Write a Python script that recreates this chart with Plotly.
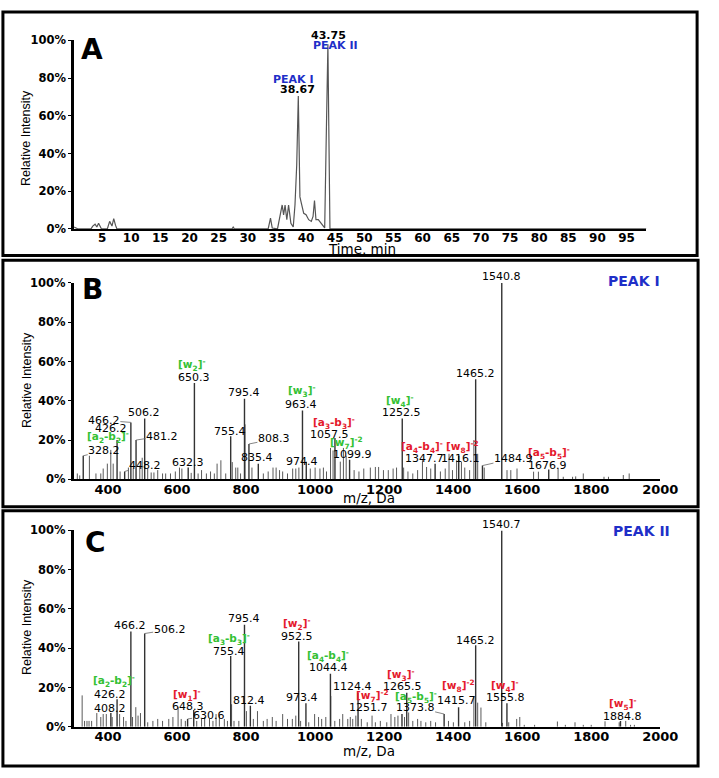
import plotly.graph_objects as go

W, H = 719, 778

# ---------------- Panel A: chromatogram ----------------
time_min = [0.2, 0.9, 3.1, 3.4, 3.8, 4.1, 4.4, 4.7, 4.9, 5.9, 6.3, 6.7, 7.0, 7.3, 7.55,
            27.3, 27.5, 27.7, 33.5, 33.9, 34.2, 35.1, 35.9, 36.15, 36.4, 36.7, 37.0,
            37.4, 37.8, 38.1, 38.4, 38.67, 38.8, 38.95, 39.2, 39.6, 40.0, 40.45, 40.9,
            41.2, 41.45, 41.7, 42.1, 42.55, 42.95, 43.2, 43.45, 43.75, 43.9, 44.1, 98.4]
rel_int_A = [1, 0, 0, 1.5, 2.5, 1, 3, 1.5, 0, 0, 4, 1.5, 5.5, 2, 0,
             0, 1, 0, 0, 5.7, 0.5, 0, 12.7, 7.5, 12.7, 4.9, 12.7,
             3, 1, 12.7, 34, 70.5, 34, 17, 13.5, 8.3, 7.5, 4.9, 4,
             6.6, 15, 4.9, 4.9, 3, 1.4, 0.5, 46, 98, 55, 0, 0]

# ---------------- Panel B: PEAK I spectrum ----------------
major_B_mz = [328.2, 426.2, 466.2, 481.2, 506.2, 448.2, 632.3, 650.3, 755.4, 795.4,
              808.3, 835.4, 963.4, 974.4, 1057.5, 1099.9, 1252.5, 1347.7, 1416.1,
              1465.2, 1484.9, 1540.8, 1676.9]
major_B_int = [12, 20, 29, 20, 31, 4, 6, 49, 22, 41,
               18, 8, 35, 9, 21, 10, 31, 8, 12,
               51, 7, 100, 5]
minor_B_mz = [311, 318, 346, 365, 379, 386, 398, 408, 415, 435, 459, 473, 492, 499, 515,
              525, 533, 544, 558, 567, 581, 595, 607, 614, 641, 661, 671, 685, 697, 708,
              716, 727, 741, 760, 770, 776, 784, 797, 817, 850, 864, 878, 887, 897, 906,
              920, 935, 944, 953, 986, 1000, 1014, 1024, 1033, 1044.6, 1052, 1073, 1082,
              1090, 1113, 1127, 1141, 1160, 1174.6, 1184, 1198, 1212, 1226, 1236, 1256.5,
              1269, 1283, 1297, 1311, 1323, 1335, 1363, 1377, 1388, 1398, 1410, 1424,
              1433.6, 1447.7, 1460, 1471, 1490, 1556, 1567, 1585, 1633, 1647, 1704, 1719,
              1746, 1755, 1777, 1837, 1850, 1893, 1910]
minor_B_int = [3, 2, 12, 3, 3, 5.5, 8, 15, 8, 4, 6, 5.5, 7, 11, 5.5,
               3.5, 3.5, 4.7, 3, 3, 3, 4, 6, 5.5, 3.3, 3, 4.7, 3, 4, 3,
               8, 9.7, 3, 8.8, 6, 6, 3, 28, 6, 3, 4, 6, 6, 4.7, 4,
               3, 5.5, 5.5, 6, 5.5, 6, 5.5, 6, 4, 16, 14.7, 9, 16,
               12, 4.7, 4, 5.5, 6, 6.3, 6.3, 4.7, 4.7, 5.5, 6, 6,
               4, 3, 4.7, 9.7, 6.3, 5.5, 4, 5.5, 13, 4.7, 9.7, 9,
               6, 4.7, 20, 13, 6, 4.7, 4.7, 5.5, 3.9, 3.9, 5.5, 1.3,
               1.3, 1.5, 3, 1.3, 1.3, 2.2, 3]

# ---------------- Panel C: PEAK II spectrum ----------------
major_C_mz = [408.2, 426.2, 466.2, 506.2, 630.6, 648.3, 755.4, 795.4, 812.4, 952.5,
              973.4, 1044.4, 1124.4, 1251.7, 1265.5, 1373.8, 1415.7, 1465.2, 1540.7,
              1555.8, 1884.8]
major_C_int = [7, 14, 48.5, 47.5, 4, 8.5, 36, 52, 10.7, 43.5,
               12, 27, 17.3, 6.5, 17.3, 6.5, 10, 41.5, 100,
               12, 3]
minor_C_mz = [325, 332, 339, 345, 352.5, 367.5, 379, 386, 395, 412, 433.6, 445, 452, 471,
              480.5, 487, 494, 515, 530, 544, 558, 576, 588, 603, 612, 624, 657, 671, 680,
              694, 704, 713, 722.6, 737, 746, 758, 765, 779, 801, 821, 833, 850, 861, 876,
              887, 906, 920, 934, 944, 958, 981.6, 998.6, 1010, 1019, 1031, 1045.5, 1057,
              1071, 1080, 1094.6, 1102, 1109, 1118, 1134, 1151, 1165, 1174.6, 1189, 1207.6,
              1219.8, 1231, 1240, 1259, 1271, 1283, 1297, 1306.6, 1320.6, 1335, 1349,
              1386.4, 1400.6, 1433.6, 1447.7, 1460, 1471, 1480.5, 1494.6, 1543, 1561, 1584,
              1593, 1606, 1636, 1702, 1725, 1753, 1777, 1800, 1840, 1881, 1900, 1914, 1925]
minor_C_int = [16, 3, 3, 3, 3, 7, 5, 6.5, 6.5, 5, 6.5, 5, 3, 5,
               10, 5.7, 7, 2.3, 3, 4, 3, 4, 5, 10, 4, 3, 3, 4, 5,
               4, 3, 6.5, 5.7, 4, 3, 11.5, 3, 3, 8, 4, 8, 3, 4, 5,
               3, 6.5, 4, 4, 5.7, 3, 2.3, 6.5, 5, 4, 5, 15.7, 3,
               4, 6.5, 4, 5, 4, 5.7, 4, 2.3, 5.7, 2.3, 3, 2.3,
               6.5, 5, 5.7, 5, 7.3, 3, 4, 3, 2.3, 3, 2.3,
               3, 2.3, 2.3, 3, 15.7, 12.3, 9.8, 2.3, 2, 2.3, 4,
               5, 1, 1, 2.7, 1, 2.3, 1, 1, 2.8, 2.3, 3, 1, 1]

x_ticks_A = [5, 10, 15, 20, 25, 30, 35, 40, 45, 50, 55, 60, 65, 70, 75, 80, 85, 90, 95]
x_ticks_MS = [400, 600, 800, 1000, 1200, 1400, 1600, 1800, 2000]
y_ticks = [0, 20, 40, 60, 80, 100]
y_tick_text = ["0%", "20%", "40%", "60%", "80%", "100%"]

FONT = "DejaVu Sans"
GREEN = "#33c133"
RED = "#e4192c"
BLUE = "#1f2fc8"


def sticks(mz, inten):
    xs, ys = [], []
    for m, h in zip(mz, inten):
        xs += [m, m, None]
        ys += [0, h, None]
    return xs, ys


fig = go.Figure()
fig.add_trace(go.Scatter(x=time_min, y=rel_int_A, mode="lines",
                         line=dict(color="#555555", width=1.2),
                         xaxis="x", yaxis="y", hoverinfo="skip"))
for mz, it, col, wd, xa, ya in [
    (minor_B_mz, minor_B_int, "#5a5a5a", 1.0, "x2", "y2"),
    (major_B_mz, major_B_int, "#333333", 1.4, "x2", "y2"),
    (minor_C_mz, minor_C_int, "#5a5a5a", 1.0, "x3", "y3"),
    (major_C_mz, major_C_int, "#333333", 1.4, "x3", "y3"),
]:
    xs, ys = sticks(mz, it)
    fig.add_trace(go.Scatter(x=xs, y=ys, mode="lines", line=dict(color=col, width=wd),
                             xaxis=xa, yaxis=ya, hoverinfo="skip"))


def ypap(py):
    return 1 - py / H


ann = []


def lab(text, xref, x, py, size=11, color="black", bold=False):
    ann.append(dict(text=text, xref=xref, yref="paper", x=x, y=ypap(py),
                    showarrow=False, xanchor="center", yanchor="middle", borderpad=0,
                    font=dict(family=FONT, size=size, color=color,
                              weight="bold" if bold else "normal")))


def leader(text, xref, yref, mz, h, ax, ay, size=11):
    ann.append(dict(text=text, xref=xref, yref=yref, x=mz, y=h, ax=ax, ay=ay,
                    showarrow=True, arrowhead=0, arrowwidth=0.8, arrowcolor="#666666",
                    standoff=0, borderpad=0, font=dict(family=FONT, size=size, color="black")))


def ion(name, sub, sup):
    return "[%s<sub>%s</sub>]<sup>%s</sup>" % (name, sub, sup)


def ion2(sub1, sub2):
    return "[a<sub>%s</sub>-b<sub>%s</sub>]<sup>-</sup>" % (sub1, sub2)


IS = 10.5  # ion label size

# Panel A labels
lab("A", "x", 3.2, 43, size=28, bold=True)
lab("PEAK I", "x", 37.8, 74, size=11, color=BLUE, bold=True)
lab("38.67", "x", 38.6, 84, size=11, bold=True)
lab("43.75", "x", 43.9, 29, size=11, bold=True)
lab("PEAK II", "x", 45.1, 39, size=11, color=BLUE, bold=True)

# Panel B labels
lab("B", "x2", 355, 288, size=28, bold=True)
lab("PEAK I", "x2", 1923, 279, size=14, color=BLUE, bold=True)
lab("1540.8", "x2", 1539, 274.5)
lab("1465.2", "x2", 1465.5, 373.5)
lab(ion("w", "4", "-"), "x2", 1245, 401.5, size=IS, color=GREEN, bold=True)
lab("1252.5", "x2", 1251, 413.4)
lab(ion2("4", "4"), "x2", 1310, 448, size=IS, color=RED, bold=True)
lab("1347.7", "x2", 1317.7, 459.7)
lab(ion("w", "8", "-2"), "x2", 1428, 448.5, size=IS, color=RED, bold=True)
lab("1416.1", "x2", 1421.8, 460)
lab(ion2("5", "5"), "x2", 1677.4, 454.5, size=IS, color=RED, bold=True)
lab("1676.9", "x2", 1674.5, 467)
lab(ion2("3", "3"), "x2", 1056, 423.5, size=IS, color=RED, bold=True)
lab("1057.5", "x2", 1042, 435)
lab(ion("w", "7", "-2"), "x2", 1089.8, 444, size=IS, color=GREEN, bold=True)
lab("1099.9", "x2", 1108.6, 455.7)
lab("974.4", "x2", 962.7, 463.3)
lab(ion("w", "3", "-"), "x2", 962.7, 391.5, size=IS, color=GREEN, bold=True)
lab("963.4", "x2", 957.9, 405)
lab("795.4", "x2", 795.2, 392.7)
lab(ion("w", "2", "-"), "x2", 642.7, 365, size=IS, color=GREEN, bold=True)
lab("650.3", "x2", 650, 377)
lab("755.4", "x2", 753.7, 432.7)
lab("835.4", "x2", 832.8, 459)
lab("632.3", "x2", 631.4, 464.3)
lab("506.2", "x2", 504.2, 412.7)
lab("426.2", "x2", 409.9, 429.3)
lab(ion2("2", "2"), "x2", 400.6, 438, size=IS, color=GREEN, bold=True)
leader("328.2", "x2", "y2", 328.2, 12, 21, -5)
leader("466.2", "x2", "y2", 466.2, 29, -27, -2)
leader("481.2", "x2", "y2", 481.2, 20, 26, -4)
leader("448.2", "x2", "y2", 448.2, 4, 20, -6)
leader("808.3", "x2", "y2", 808.3, 18, 25, -5)
leader("1484.9", "x2", "y2", 1484.9, 7, 31, -7)

# Panel C labels
lab("C", "x3", 363.8, 545, size=28, bold=True)
lab("PEAK II", "x3", 1945.8, 534, size=14, color=BLUE, bold=True)
lab("1540.7", "x3", 1540, 526.8)
lab("1465.2", "x3", 1465.5, 645)
lab("466.2", "x3", 462.7, 630)
lab("795.4", "x3", 793.2, 623)
lab(ion2("3", "3"), "x3", 750.8, 644, size=IS, color=GREEN, bold=True)
lab("755.4", "x3", 750.8, 656)
lab(ion("w", "2", "-"), "x3", 948.6, 628, size=IS, color=RED, bold=True)
lab("952.5", "x3", 948.6, 641)
lab(ion2("4", "4"), "x3", 1038, 660.7, size=IS, color=GREEN, bold=True)
lab("1044.4", "x3", 1038, 673)
lab(ion2("2", "2"), "x3", 417.5, 686, size=IS, color=GREEN, bold=True)
lab("426.2", "x3", 406.2, 700)
lab("408.2", "x3", 405.4, 714)
lab(ion("w", "1", "-"), "x3", 628.5, 701, size=IS, color=RED, bold=True)
lab("648.3", "x3", 631.3, 712.5)
lab("812.4", "x3", 807.3, 706.7)
lab("973.4", "x3", 962.7, 703.3)
lab("1124.4", "x3", 1108.8, 691.7)
lab(ion("w", "3", "-"), "x3", 1250, 680.7, size=IS, color=RED, bold=True)
lab("1265.5", "x3", 1254.5, 692)
lab(ion("w", "7", "-2"), "x3", 1166, 701.7, size=IS, color=RED, bold=True)
lab("1251.7", "x3", 1155.6, 713)
lab(ion2("5", "5"), "x3", 1292, 702.3, size=IS, color=GREEN, bold=True)
lab(ion("w", "8", "-2"), "x3", 1414.7, 691.7, size=IS, color=RED, bold=True)
lab("1415.7", "x3", 1409.9, 706.7)
lab(ion("w", "4", "-"), "x3", 1551, 691.7, size=IS, color=RED, bold=True)
lab("1555.8", "x3", 1551, 703.5)
lab(ion("w", "5", "-"), "x3", 1891, 709.7, size=IS, color=RED, bold=True)
lab("1884.8", "x3", 1889.3, 722)
leader("506.2", "x3", "y3", 506.2, 47.5, 25, -4)
leader("630.6", "x3", "y3", 630.6, 4, 21, -3)
leader("1373.8", "x3", "y3", 1373.8, 6.5, -29, -7)

# Axis titles
for txt, px, py in [("Relative Intensity", 26, 133),
                    ("Relative Intensity", 27.5, 380),
                    ("Relative Intensity", 27, 631)]:
    ann.append(dict(text=txt, xref="paper", yref="paper", x=px / W, y=ypap(py),
                    showarrow=False, textangle=-90, xanchor="center", yanchor="middle",
                    font=dict(family="Liberation Sans", size=12.5, color="black")))
for txt, px, py in [("Time, min", 371, 246.5), ("m/z, Da", 378, 500.5), ("m/z, Da", 378, 758)]:
    ann.append(dict(text=txt, xref="paper", yref="paper", x=px / W, y=ypap(py),
                    showarrow=False, xanchor="center", yanchor="middle", borderpad=0,
                    font=dict(family=FONT, size=13.5, color="black")))

shapes = []
for (x0, y0, x1, y1) in [(3, 5, 715, 253), (3, 258, 716, 509), (3, 513, 716, 773)]:
    shapes.append(dict(type="rect", xref="paper", yref="paper",
                       x0=x0 / W, x1=x1 / W, y0=ypap(y1), y1=ypap(y0),
                       line=dict(color="black", width=3), fillcolor="rgba(0,0,0,0)"))


def xax(domain, rng, ticks, anchor, size):
    return dict(domain=domain, range=rng, tickvals=ticks, anchor=anchor,
                showline=True, linecolor="black", linewidth=2, ticks="",
                showgrid=False, zeroline=False, ticklabelstandoff=-3,
                tickfont=dict(family=FONT, size=size, color="black", weight="bold"))


def yax(domain, anchor):
    return dict(domain=domain, range=[0, 100], tickvals=y_ticks, ticktext=y_tick_text,
                anchor=anchor, showline=True, linecolor="black", linewidth=2.5,
                ticks="outside", ticklen=3, tickcolor="black", showgrid=False,
                zeroline=False,
                tickfont=dict(family=FONT, size=11.5, color="black", weight="bold"))


fig.update_layout(
    width=W, height=H, margin=dict(l=0, r=0, t=0, b=0),
    paper_bgcolor="white", plot_bgcolor="white", showlegend=False,
    xaxis=xax([76 / W, 663 / W], [0.2, 98.4], x_ticks_A, "y", 12),
    yaxis=yax([ypap(226), ypap(34)], "x"),
    xaxis2=xax([75.4 / W, 677.2 / W], [300, 2000], x_ticks_MS, "y2", 13),
    yaxis2=yax([ypap(481), ypap(281)], "x2"),
    xaxis3=xax([75.4 / W, 677.2 / W], [300, 2000], x_ticks_MS, "y3", 13),
    yaxis3=yax([ypap(733), ypap(533)], "x3"),
    annotations=ann, shapes=shapes,
)

fig.write_html("out.html", config={"displayModeBar": False},
               post_script="document.body.style.margin='0';")
